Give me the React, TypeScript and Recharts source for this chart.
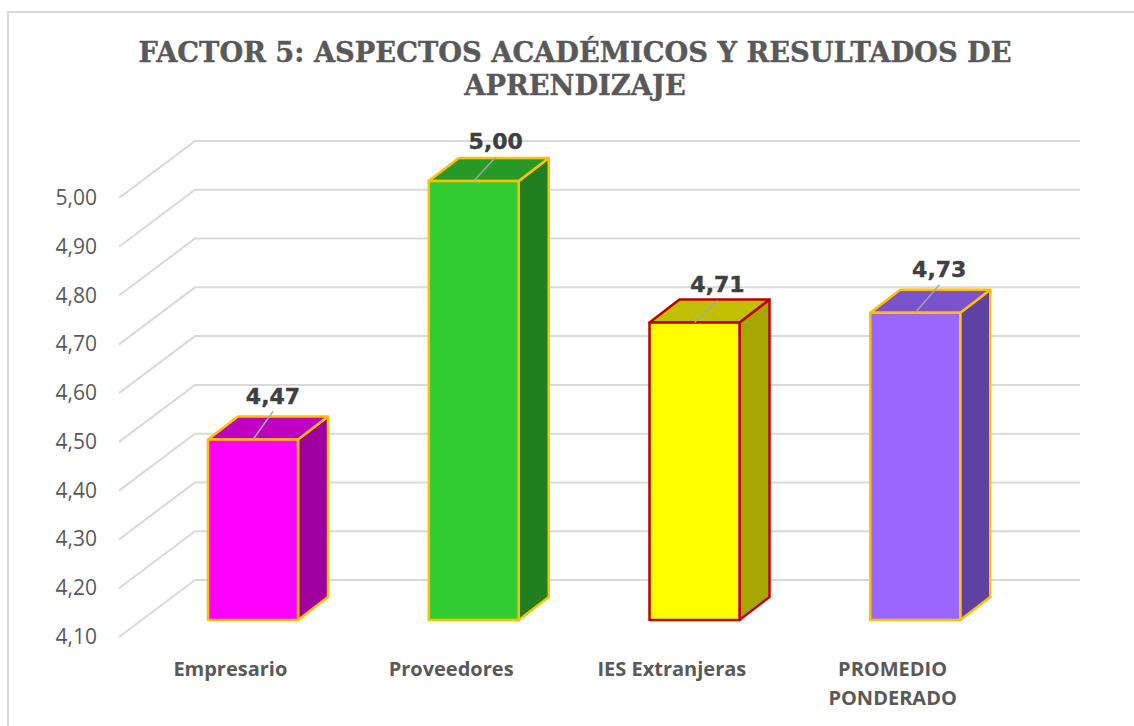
import { BarChart, Bar, XAxis, YAxis, CartesianGrid, LabelList } from 'recharts';

const categories = ['Empresario', 'Proveedores', 'IES Extranjeras', 'PROMEDIO PONDERADO'];
const values = [4.47, 5.0, 4.71, 4.73];
const yTicks = [4.1, 4.2, 4.3, 4.4, 4.5, 4.6, 4.7, 4.8, 4.9, 5.0];

const data = categories.map((name, i) => ({ name, value: values[i] }));

// front, top and side colours of each box
const faces = ['#FF00FF', '#33CC33', '#FFFF00', '#9966FF'];
const tops = ['#C000C0', '#269926', '#C0C000', '#7A52CC'];
const sides = ['#A000A0', '#208020', '#A6A600', '#6040A0'];
const borders = ['#FFC000', '#FFC000', '#C00000', '#FFC000'];

// fake 3D depth
const DEPTH_X = 30;
const DEPTH_Y = 23;

// the label leader lines are not all the same length in the original
const labelLift = [44, 40, 38, 44];
const labelShift = [20, 22, 23, 24];

const fmt = (v: number) => v.toFixed(2).replace('.', ',');

const Box = (props: any) => {
  const { x, y, width, height, index } = props;
  const r = x + width;
  const b = y + height;
  const stroke = borders[index];
  const common = { stroke, strokeWidth: 2.5, strokeLinejoin: 'round' as const };
  return (
    <g>
      <path
        d={`M${r},${y} L${r + DEPTH_X},${y - DEPTH_Y} L${r + DEPTH_X},${b - DEPTH_Y} L${r},${b} Z`}
        fill={sides[index]}
        {...common}
      />
      <path
        d={`M${x},${y} L${x + DEPTH_X},${y - DEPTH_Y} L${r + DEPTH_X},${y - DEPTH_Y} L${r},${y} Z`}
        fill={tops[index]}
        {...common}
      />
      <rect x={x} y={y} width={width} height={height} fill={faces[index]} {...common} />
    </g>
  );
};

const GridLine = (props: any) => {
  const { x1, y1, x2, index } = props;
  // front-left corner and the back wall run
  const d = `M${x1 - 24},${y1 + 17} L${x1 + 52},${y1 - 40} L${x2 + 54},${y1 - 40}`;
  return <path key={index} d={d} fill="none" stroke="#D9D9D9" strokeWidth={2} />;
};

const YTick = (props: any) => {
  const { x, y, payload } = props;
  return (
    <text x={x - 40} y={y} dy={24} textAnchor="end" fontSize={21} fill="#595959" fontFamily="Open Sans">
      {fmt(payload.value)}
    </text>
  );
};

const XTick = (props: any) => {
  const { x, y, payload } = props;
  const words = payload.value === 'PROMEDIO PONDERADO' ? ['PROMEDIO', 'PONDERADO'] : [payload.value];
  return (
    <text x={x - 23} y={y + 48} textAnchor="middle" fontSize={20} fontWeight="bold" fill="#595959" fontFamily="Open Sans">
      {words.map((w: string, i: number) => (
        <tspan key={w} x={x - 23} dy={i === 0 ? 0 : 29}>
          {w}
        </tspan>
      ))}
    </text>
  );
};

const BarLabel = (props: any) => {
  const { x, y, width, value, index } = props;
  const cx = x + width / 2;
  const lx = cx + labelShift[index];
  const ly = y - labelLift[index];
  return (
    <g>
      <line x1={cx} y1={y} x2={lx} y2={ly + 16} stroke="#A6A6A6" strokeWidth={1.5} />
      <text
        x={lx}
        y={ly + 8}
        textAnchor="middle"
        fontSize={22}
        fontWeight="bold"
        fill="#404040"
        stroke="#404040"
        strokeWidth={0.4}
        fontFamily="DejaVu Sans"
      >
        {fmt(value)}
      </text>
    </g>
  );
};

export default function App() {
  return (
    <div style={{ position: 'absolute', left: 0, top: 0, width: 1134, height: 726, background: '#fff' }}>
      <div
        style={{
          position: 'absolute',
          left: 7,
          top: 11,
          right: 0,
          bottom: 0,
          borderLeft: '2px solid #D9D9D9',
          borderTop: '2px solid #D9D9D9',
        }}
      />
      <div
        style={{
          position: 'absolute',
          left: 0,
          top: 36,
          width: 1150,
          textAlign: 'center',
          fontFamily: 'DejaVu Serif',
          fontWeight: 'bold',
          fontSize: 27.3,
          lineHeight: '33px',
          color: '#595959',
          WebkitTextStroke: '0.4px #595959',
        }}
      >
        FACTOR 5: ASPECTOS ACADÉMICOS Y RESULTADOS DE
        <br />
        APRENDIZAJE
      </div>
      <div style={{ position: 'absolute', left: 0, top: 0 }}>
        <BarChart
          width={1134}
          height={726}
          data={data}
          margin={{ top: 181, right: 108, bottom: 46, left: 0 }}
          barSize={90}
        >
          <CartesianGrid vertical={false} horizontal={GridLine} />
          <XAxis dataKey="name" interval={0} height={60} axisLine={false} tickLine={false} tick={XTick} />
          <YAxis
            domain={[4.1, 5]}
            ticks={yTicks}
            width={143}
            axisLine={false}
            tickLine={false}
            tick={YTick}
            tickMargin={0}
          />
          <Bar dataKey="value" shape={Box} isAnimationActive={false}>
            <LabelList dataKey="value" content={BarLabel} />
          </Bar>
        </BarChart>
      </div>
    </div>
  );
}
